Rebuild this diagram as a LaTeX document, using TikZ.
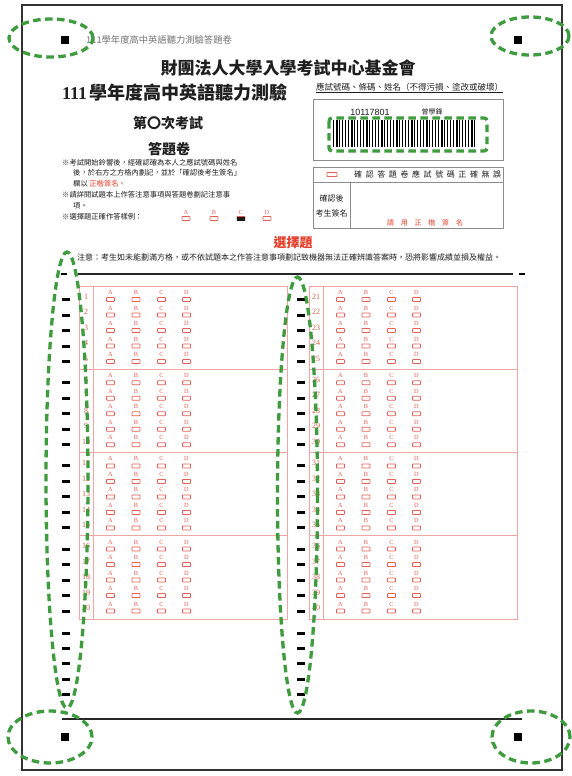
\documentclass[tikz,border=0pt]{standalone}
\usepackage{fontspec}
\setmainfont{Liberation Serif}
\newfontfamily\cjk{Noto Sans CJK TC}
\newfontfamily\arialf{Liberation Sans}
\newcommand\fsz[1]{\fontsize{#1}{#1}\selectfont}
\definecolor{redb}{RGB}{230,95,85}
\definecolor{redl}{RGB}{242,165,165}
\definecolor{redt}{RGB}{228,62,42}
\definecolor{numc}{RGB}{205,95,75}
\definecolor{gmk}{RGB}{62,155,62}
\begin{document}
\begin{tikzpicture}[x=1pt,y=-1pt,
  frame/.style={draw=black!80,line width=1.1pt},
  gmark/.style={draw=gmk,line width=3.3pt,dash pattern=on 7.5pt off 4.5pt},
  tmark/.style={fill=black,draw=none,minimum width=8pt,minimum height=3pt,inner sep=0pt},
  corner/.style={fill=black,draw=none,minimum size=8pt,inner sep=0pt},
  bub/.style={draw=redb,line width=0.75pt,rounded corners=0.6pt,minimum width=8pt,minimum height=4pt,inner sep=0pt},
  blet/.style={text=redb,font=\rmfamily\fsz{6.3},inner sep=0pt},
  bnum/.style={text=numc,font=\rmfamily\fsz{8},inner sep=0pt},
  panel/.style={draw=redl,line width=0.6pt},
  gbox/.style={draw=black!45,line width=0.6pt},
  txt/.style={inner sep=0pt,text=black!88},
]
\useasboundingbox (0,0) rectangle (572,776);
\fill[white] (0,0) rectangle (572,776);
% outer frame
\draw[frame] (22,5) rectangle (562,770);
% corner squares
\node[corner] (sqTL) at (65,40) {};
\node[corner] (sqTR) at (518,40) {};
\node[corner] (sqBL) at (65,737) {};
\node[corner] (sqBR) at (518,737) {};
% header
\node[txt,anchor=west,font=\cjk\fsz{9.3},text=black!55] (hdr) at (86,40) {111學年度高中英語聽力測驗答題卷};
\node[txt,font=\cjk\bfseries\fsz{17}] (org) at (288,68) {財團法人大學入學考試中心基金會};
\node[txt,anchor=west] (exam) at (62,93) {{\rmfamily\bfseries\fsz{18}111} {\cjk\bfseries\fsz{18}學年度高中英語聽力測驗}};
\node[txt,font=\cjk\bfseries\fsz{14}] (round) at (168,123) {第〇次考試};
\node[txt,font=\cjk\bfseries\fsz{14}] (sheet) at (169,149) {答題卷};
% instructions
\node[txt,anchor=west,font=\cjk\fsz{7.3}] (i1) at (62,163) {※考試開始鈴響後，經確認確為本人之應試號碼與姓名};
\node[txt,anchor=west,font=\cjk\fsz{7.3}] (i2) at (73,173) {後，於右方之方格內劃記，並於「確認後考生簽名」};
\node[txt,anchor=west,font=\cjk\fsz{7.3}] (i3) at (73,184) {欄以 \textcolor{redt}{正楷簽名。}};
\node[txt,anchor=west,font=\cjk\fsz{7.3}] (i4) at (62,195) {※請詳閱試題本上作答注意事項與答題卷劃記注意事};
\node[txt,anchor=west,font=\cjk\fsz{7.3}] (i5) at (73,206) {項。};
\node[txt,anchor=west,font=\cjk\fsz{7.3}] (i6) at (62,217) {※選擇題正確作答樣例：};
\foreach \L/\xx in {A/186,B/214,C/241,D/267}{
  \node[blet] (ex\L) at (\xx,212) {\L};
  \node[bub] (exb\L) at (\xx,218.5) {};
}
\fill[black!90] (237,216.5) rectangle (245,220.5);
% id area
\node[txt,anchor=west,font=\cjk\fsz{8.5}] (idlbl) at (316,88) {\underline{應試號碼、條碼、姓名（不得污損、塗改或破壞）}};
\draw[gbox] (313,99) rectangle (503,160);
\node[txt,font=\arialf\fsz{9}] (idnum) at (370,112) {10117801};
\node[txt,font=\cjk\fsz{7}] (idname) at (432,112) {曾學鋒};
\foreach \i in {0,...,47}{
  \pgfmathsetmacro\w{{1.1,1.9,2.4,1.3,2.1}[int(mod(\i*3+\i*\i,5))]}
  \fill[black] (333+3*\i,120) rectangle ++(\w,27);
}
\draw[gmark,rounded corners=3pt] (329,118) rectangle (487,151);
% confirmation box
\draw[gbox] (313,167) rectangle (503,228);
\draw[gbox] (313,182) -- (503,182);
\draw[gbox] (350,182) -- (350,228);
\node[bub,minimum width=10pt] (cb) at (332,174.5) {};
\node[txt,anchor=west,font=\cjk\fsz{8}] (chk) at (354,174.5) {\makebox[147pt][s]{確 認 答 題 卷 應 試 號 碼 正 確 無 誤}};
\node[txt,font=\cjk\fsz{8}] (s1) at (331.5,198) {確認後};
\node[txt,font=\cjk\fsz{8}] (s2) at (331.5,213) {考生簽名};
\node[txt,font=\cjk\fsz{7},text=redt] (s3) at (425,223) {\makebox[76pt][s]{請 用 正 楷 簽 名}};
% section title and note
\node[txt,font=\cjk\bfseries\fsz{13},text=redt] (sel) at (293,243) {選擇題};
\node[txt,anchor=west,font=\cjk\fsz{8}] (note) at (77,257) {注意：考生如未能劃滿方格，或不依試題本之作答注意事項劃記致機器無法正確辨識答案時，恐將影響成績並損及權益。};
\draw[line width=1.4pt,black!85] (78,274) -- (513,274);
\fill[black] (61,273) rectangle (67,275.4);
\fill[black] (519,273) rectangle (525,275.4);
\draw[line width=1.2pt,black!85] (62,719) -- (522,719);
% answer panels
\foreach \px/\base/\tx in {79/0/66, 309/20/301}{
  \draw[panel] (\px,286) rectangle (\px+208.5,619);
  \draw[panel] (\px+14,286) -- (\px+14,619);
  \foreach \yy in {369,452,535}{\draw[panel] (\px,\yy) -- (\px+208.5,\yy);}
  \foreach \g in {0,...,3}{
    \foreach \r in {0,...,4}{
      \pgfmathsetmacro\yb{299.5+83.2*\g+15.5*\r}
      \pgfmathtruncatemacro\n{\base+5*\g+\r+1}
      \node[tmark] (tm\n) at (\tx,\yb) {};
      \node[bnum] (num\n) at (\px+7,\yb-3) {\n};
      \foreach \L/\dx in {A/31.5,B/57,C/82.5,D/107.5}{
        \node[blet] (l\n\L) at (\px+\dx,\yb-7) {\L};
        \node[bub] (b\n\L) at (\px+\dx,\yb) {};
      }
    }
  }
  \foreach \yy in {633,648,663,679,694}{\node[tmark] (tx\px\yy) at (\tx,\yy) {};}
}
% green marking ellipses
\draw[gmark] (51,38) ellipse [x radius=42pt, y radius=19pt];
\draw[gmark] (530,36) ellipse [x radius=39pt, y radius=19pt];
\draw[gmark] (50,737) ellipse [x radius=42pt, y radius=26pt];
\draw[gmark] (531,737) ellipse [x radius=39pt, y radius=26pt];
\draw[gmark] (67,480) ellipse [x radius=21pt, y radius=228pt];
\draw[gmark] (297.5,495) ellipse [x radius=20pt, y radius=218pt];
\end{tikzpicture}
\end{document}
